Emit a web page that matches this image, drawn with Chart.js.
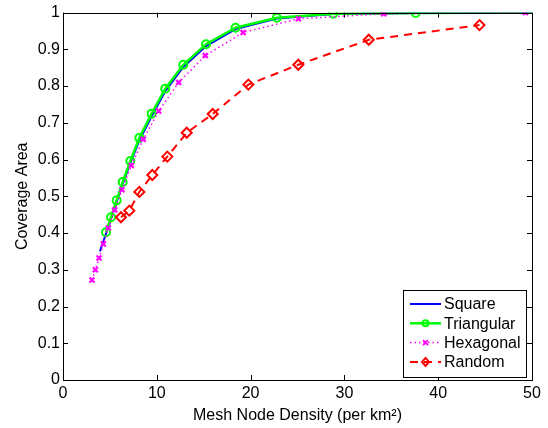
<!DOCTYPE html>
<html>
<head>
<meta charset="utf-8">
<script src="https://cdn.jsdelivr.net/npm/chart.js@4/dist/chart.umd.min.js"></script>
<style>
  html, body { margin: 0; padding: 0; background: #fff; }
  #chart { display: block; }
</style>
</head>
<body>
<canvas id="chart" width="548" height="428"></canvas>
<script>
// data
const squareX = [3.94, 4.58, 5.12, 5.72, 6.36, 7.18, 8.14, 9.45, 10.9, 12.83, 15.25, 18.4, 22.8, 28.8, 37.6, 50];
const squareY = [0.350, 0.398, 0.438, 0.484, 0.533, 0.590, 0.652, 0.718, 0.786, 0.852, 0.909, 0.955, 0.984, 0.996, 0.999, 1.0];

const triX = [4.58, 5.12, 5.72, 6.36, 7.18, 8.14, 9.45, 10.9, 12.83, 15.25, 18.4, 22.8, 28.8, 37.6, 50];
const triY = [0.402, 0.443, 0.489, 0.539, 0.596, 0.659, 0.725, 0.793, 0.858, 0.914, 0.959, 0.986, 0.997, 0.999, 1.0];

const hexX = [3.09, 3.45, 3.84, 4.3, 4.83, 5.51, 6.29, 7.28, 8.56, 10.2, 12.33, 15.17, 19.2, 25.1, 34.2, 49.3];
const hexY = [0.272, 0.300, 0.332, 0.370, 0.414, 0.463, 0.518, 0.584, 0.655, 0.732, 0.810, 0.883, 0.946, 0.983, 0.997, 1.0];

const randX = [6.18, 7.07, 8.14, 9.52, 11.12, 13.19, 15.96, 19.76, 25.09, 32.6, 44.4];
const randY = [0.443, 0.461, 0.512, 0.558, 0.608, 0.673, 0.724, 0.804, 0.858, 0.926, 0.966];

const xTicks = [0, 10, 20, 30, 40, 50];
const yTicks = [0, 0.1, 0.2, 0.3, 0.4, 0.5, 0.6, 0.7, 0.8, 0.9, 1];

const FONT = "'Liberation Sans', Arial, sans-serif";
const FSIZE = 16;

function pts(xs, ys) {
    return xs.map((x, i) => ({ x: x, y: ys[i] }));
}

// markers on every point except the final one for the triangular series
const triRadius = triX.map((x, i) => i === triX.length - 1 ? 0 : 4);

const datasets = [
    {
        label: "Square",
        data: pts(squareX, squareY),
        borderColor: "#0000ff",
        borderWidth: 2,
        pointRadius: 0,
        order: 4
    },
    {
        label: "Triangular",
        data: pts(triX, triY),
        borderColor: "#00ff00",
        borderWidth: 2.5,
        pointStyle: "circle",
        pointRadius: triRadius,
        pointBorderWidth: 2,
        pointBorderColor: "#00ff00",
        pointBackgroundColor: "rgba(0,0,0,0)",
        order: 3
    },
    {
        label: "Hexagonal",
        data: pts(hexX, hexY),
        borderColor: "#ff00ff",
        borderWidth: 1.5,
        borderDash: [1.5, 3],
        pointStyle: "crossRot",
        pointRadius: 3.5,
        pointBorderWidth: 2.2,
        pointBorderColor: "#ff00ff",
        order: 2
    },
    {
        label: "Random",
        data: pts(randX, randY),
        borderColor: "#ff0000",
        borderWidth: 2,
        borderDash: [8, 6],
        pointStyle: "rectRot",
        pointRadius: 5,
        pointBorderWidth: 2,
        pointBorderColor: "#ff0000",
        pointBackgroundColor: "rgba(0,0,0,0)",
        order: 1
    }
];

// box, inward ticks and the in-axes legend, matlab style
const matlabAxes = {
    id: "matlabAxes",
    afterDraw(chart) {
        const ctx = chart.ctx;
        const { left, right, top, bottom } = chart.chartArea;
        const xs = chart.scales.x, ys = chart.scales.y;
        ctx.save();
        ctx.strokeStyle = "#000";
        ctx.lineWidth = 1;
        ctx.setLineDash([]);
        ctx.strokeRect(Math.round(left) + 0.5, Math.round(top) + 0.5, Math.round(right - left), Math.round(bottom - top));
        const tl = 5;
        ctx.beginPath();
        xTicks.forEach(v => {
            const px = Math.round(xs.getPixelForValue(v)) + 0.5;
            ctx.moveTo(px, bottom); ctx.lineTo(px, bottom - tl);
            ctx.moveTo(px, top); ctx.lineTo(px, top + tl);
        });
        yTicks.forEach(v => {
            const py = Math.round(ys.getPixelForValue(v)) + 0.5;
            ctx.moveTo(left, py); ctx.lineTo(left + tl, py);
            ctx.moveTo(right, py); ctx.lineTo(right - tl, py);
        });
        ctx.stroke();

        // legend
        const bx = 403, by = 290, bw = 123, bh = 87;
        ctx.fillStyle = "#fff";
        ctx.fillRect(bx, by, bw, bh);
        ctx.strokeStyle = "#000";
        ctx.lineWidth = 1;
        ctx.strokeRect(bx + 0.5, by + 0.5, bw, bh);
        ctx.font = FSIZE + "px " + FONT;
        ctx.textBaseline = "middle";
        ctx.textAlign = "left";
        datasets.forEach((ds, i) => {
            const ly = by + 14 + i * 19.3;
            ctx.strokeStyle = ds.borderColor;
            ctx.lineWidth = ds.borderWidth;
            ctx.setLineDash(ds.borderDash || []);
            ctx.beginPath();
            ctx.moveTo(bx + 7, ly);
            ctx.lineTo(bx + 38, ly);
            ctx.stroke();
            ctx.setLineDash([]);
            const mx = bx + 22.5;
            ctx.lineWidth = 2;
            if (ds.pointStyle === "circle") {
                ctx.beginPath(); ctx.arc(mx, ly, 3, 0, Math.PI * 2); ctx.stroke();
            } else if (ds.pointStyle === "crossRot") {
                ctx.beginPath();
                ctx.moveTo(mx - 2.5, ly - 2.5); ctx.lineTo(mx + 2.5, ly + 2.5);
                ctx.moveTo(mx + 2.5, ly - 2.5); ctx.lineTo(mx - 2.5, ly + 2.5);
                ctx.stroke();
            } else if (ds.pointStyle === "rectRot") {
                ctx.beginPath();
                ctx.moveTo(mx, ly - 4); ctx.lineTo(mx + 3.5, ly);
                ctx.lineTo(mx, ly + 4); ctx.lineTo(mx - 3.5, ly);
                ctx.closePath(); ctx.stroke();
            }
            ctx.fillStyle = "#000";
            ctx.fillText(ds.label, bx + 41, ly + 1);
        });
        ctx.restore();
    }
};

new Chart(document.getElementById("chart"), {
    type: "scatter",
    data: { datasets: datasets.map(d => Object.assign({ showLine: true, fill: false, tension: 0 }, d)) },
    options: {
        responsive: false,
        animation: false,
        events: [],
        layout: { padding: { top: 11, right: 16, left: 0, bottom: 0 } },
        plugins: { legend: { display: false }, tooltip: { enabled: false } },
        scales: {
            x: {
                type: "linear",
                min: 0, max: 50,
                afterBuildTicks: s => { s.ticks = xTicks.map(v => ({ value: v })); },
                afterFit: s => { s.height = 48; },
                grid: { display: false, drawTicks: false },
                border: { display: false },
                ticks: { color: "#000", font: { family: FONT, size: FSIZE }, padding: 4 },
                title: {
                    display: true,
                    text: "Mesh Node Density (per km²)",
                    color: "#000",
                    font: { family: FONT, size: FSIZE },
                    padding: { top: 0, bottom: 3 }
                }
            },
            y: {
                type: "linear",
                min: 0, max: 1,
                afterBuildTicks: s => { s.ticks = yTicks.map(v => ({ value: v })); },
                afterFit: s => { s.width = 63; },
                grid: { display: false, drawTicks: false },
                border: { display: false },
                ticks: { color: "#000", font: { family: FONT, size: FSIZE }, padding: 3,
                         callback: v => String(Math.round(v * 10) / 10) },
                title: {
                    display: true,
                    text: "Coverage Area",
                    color: "#000",
                    font: { family: FONT, size: FSIZE },
                    padding: { top: 13, bottom: 0 }
                }
            }
        }
    },
    plugins: [matlabAxes]
});
</script>
</body>
</html>
